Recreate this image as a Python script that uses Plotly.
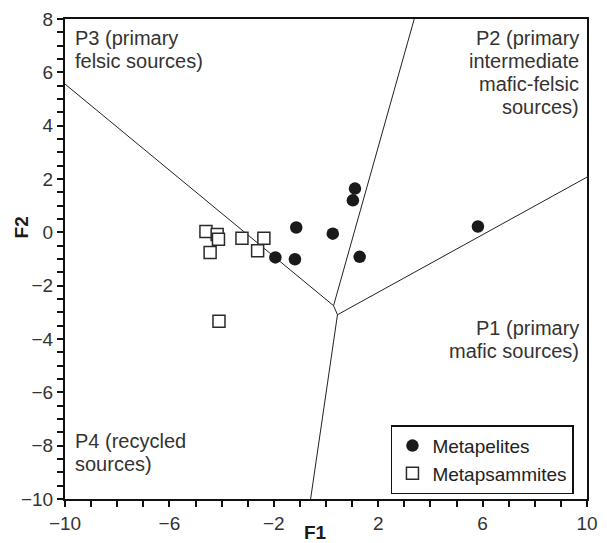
import plotly.graph_objects as go

# Data (F1, F2 discriminant function scores)
pel_x = [1.11, 1.03, -1.14, 0.26, -1.94, -1.19, 1.29, 5.82]
pel_y = [1.64, 1.20, 0.18, -0.05, -0.94, -1.01, -0.92, 0.22]
psa_x = [-4.60, -4.17, -4.12, -4.44, -3.22, -2.38, -2.62, -4.10]
psa_y = [0.03, -0.08, -0.26, -0.76, -0.22, -0.22, -0.69, -3.33]

# Field boundaries (segments separated by None)
bnd_x = [-10, 0.29, None, 0.29, 3.38, None, 0.29, 0.44, None, 0.44, 10, None, 0.44, -0.59]
bnd_y = [5.56, -2.75, None, -2.75, 8, None, -2.75, -3.09, None, -3.09, 2.07, None, -3.09, -10]

# Field names (one entry per text line)
p3_lines = ["P3 (primary", "felsic sources)"]
p2_lines = ["P2 (primary", "intermediate", "mafic-felsic", "sources)"]
p1_lines = ["P1 (primary", "mafic sources)"]
p4_lines = ["P4 (recycled", "sources)"]

FONT = "Liberation Sans, Arial, sans-serif"
W, H = 607, 543
ML, MR, MT, MB = 65, 9, 11, 43
PW = W - ML - MR

fig = go.Figure()
fig.add_trace(go.Scatter(x=bnd_x, y=bnd_y, mode="lines",
                         line=dict(color="#222222", width=1),
                         showlegend=False, hoverinfo="skip"))
fig.add_trace(go.Scatter(x=pel_x, y=pel_y, mode="markers", name="Metapelites",
                         marker=dict(symbol="circle", size=12.5, color="#1a1a1a",
                                     line=dict(width=0))))
fig.add_trace(go.Scatter(x=psa_x, y=psa_y, mode="markers", name="Metapsammites",
                         marker=dict(symbol="square", size=12, color="white",
                                     line=dict(color="#2a2a2a", width=1.5))))

ann = []
LINE_GAP = 23


def add_block(lines, px_x, first_y, anchor):
    for i, t in enumerate(lines):
        yc = first_y + i * LINE_GAP
        ann.append(dict(x=(px_x - ML) / PW, y=1, yshift=-(yc - MT),
                        xref="paper", yref="paper", text=t,
                        xanchor=anchor, yanchor="middle", showarrow=False,
                        font=dict(size=20, color="#333333", family=FONT)))


add_block(p3_lines, 73, 30, "left")
add_block(p2_lines, 592, 30, "right")
add_block(p1_lines, 592, 320, "right")
add_block(p4_lines, 73, 433, "left")

ann.append(dict(x=(321 - ML) / PW, y=0, yshift=-46, xref="paper", yref="paper",
                text="<b>F1</b>", xanchor="center", yanchor="bottom", showarrow=False,
                font=dict(size=19, color="#1a1a1a", family=FONT)))
ann.append(dict(x=-0.083, y=0.565, xref="paper", yref="paper", text="<b>F2</b>",
                xanchor="center", yanchor="middle", textangle=-90, showarrow=False,
                font=dict(size=19, color="#1a1a1a", family=FONT)))

fig.update_layout(
    width=W, height=H,
    margin=dict(l=ML, r=MR, t=MT, b=MB),
    paper_bgcolor="white", plot_bgcolor="white",
    font=dict(family=FONT, size=19, color="#333333"),
    annotations=ann,
    legend=dict(x=0.975, y=0.01, xanchor="right", yanchor="bottom",
                bgcolor="white", bordercolor="#111111", borderwidth=1.5,
                font=dict(size=19, color="#222222", family=FONT),
                tracegroupgap=0, itemwidth=30),
)
fig.update_xaxes(range=[-10, 10], tickmode="linear", tick0=-10, dtick=4,
                 ticks="outside", ticklen=6, tickwidth=1.5, tickcolor="#111111",
                 showline=True, linecolor="#111111", linewidth=2, mirror=True,
                 showgrid=False, zeroline=False,
                 minor=dict(dtick=1, ticks="outside", ticklen=6, tickwidth=1.5,
                            tickcolor="#111111", showgrid=False),
                 tickfont=dict(size=19, color="#333333", family=FONT))
fig.update_yaxes(range=[-10, 8], tickmode="linear", tick0=-10, dtick=2,
                 ticks="outside", ticklen=6, tickwidth=1.5, tickcolor="#111111",
                 showline=True, linecolor="#111111", linewidth=2, mirror=True,
                 showgrid=False, zeroline=False,
                 minor=dict(dtick=0.5, ticks="outside", ticklen=6, tickwidth=1.5,
                            tickcolor="#111111", showgrid=False),
                 tickfont=dict(size=19, color="#333333", family=FONT))

fig.write_html("out.html")
